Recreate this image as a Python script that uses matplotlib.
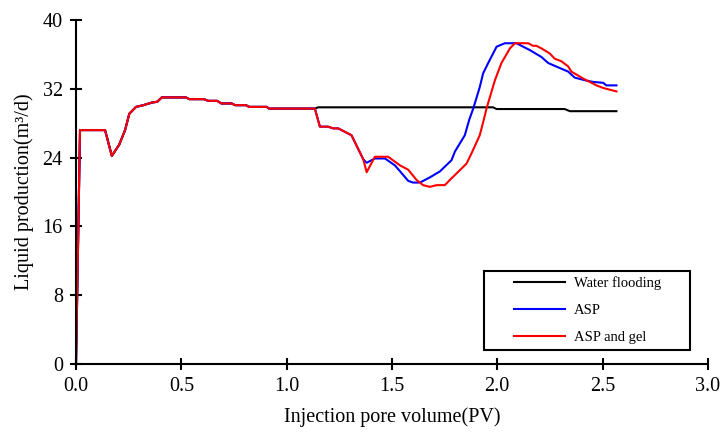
import numpy as np
import matplotlib
matplotlib.use('Agg')
import matplotlib.pyplot as plt
from matplotlib.patches import Rectangle

plt.rcParams['font.family'] = ['Liberation Serif', 'DejaVu Serif']

# common start (all three curves overlap until ~1.13 PV)
pv_common = [0.0, 0.019, 0.138, 0.17, 0.205, 0.233, 0.253, 0.285, 0.32, 0.36, 0.386, 0.407,
             0.522, 0.538, 0.607, 0.628, 0.67, 0.69, 0.739, 0.755, 0.807, 0.822, 0.905, 0.917, 1.134]
q_common = [0.0, 27.2, 27.2, 24.2, 25.5, 27.2, 29.1, 29.9, 30.1, 30.4, 30.5, 31.0,
            31.0, 30.8, 30.8, 30.6, 30.6, 30.3, 30.3, 30.1, 30.1, 29.9, 29.9, 29.7, 29.7]

# water flooding after 1.13 PV
pv_water = [1.15, 1.98, 1.997, 2.32, 2.345, 2.566]
q_water = [29.85, 29.85, 29.65, 29.65, 29.4, 29.4]

# chemical flooding, shared part after 1.13 PV
pv_chem = [1.158, 1.197, 1.221, 1.245, 1.269, 1.308, 1.364]
q_chem = [27.6, 27.6, 27.4, 27.4, 27.1, 26.6, 23.8]

pv_asp = [1.38, 1.419, 1.467, 1.514, 1.546, 1.577, 1.6, 1.633, 1.68, 1.728, 1.783, 1.799,
          1.846, 1.867, 1.886, 1.917, 1.933, 1.957, 1.997, 2.036, 2.092, 2.115, 2.155, 2.21,
          2.242, 2.289, 2.337, 2.368, 2.416, 2.455, 2.503, 2.518, 2.566]
q_asp = [23.4, 23.9, 23.9, 23.1, 22.2, 21.3, 21.1, 21.1, 21.7, 22.4, 23.7, 24.7,
         26.6, 28.4, 29.7, 32.2, 33.8, 35.0, 36.9, 37.3, 37.3, 37.0, 36.5, 35.7,
         35.0, 34.5, 34.0, 33.3, 33.0, 32.8, 32.7, 32.4, 32.4]

pv_gel = [1.38, 1.419, 1.482, 1.538, 1.577, 1.617, 1.648, 1.68, 1.712, 1.751, 1.775, 1.854,
          1.878, 1.917, 1.936, 1.949, 1.989, 2.02, 2.06, 2.084, 2.147, 2.17, 2.186, 2.21,
          2.25, 2.273, 2.305, 2.337, 2.352, 2.408, 2.471, 2.503, 2.534, 2.566]
q_gel = [22.3, 24.1, 24.1, 23.1, 22.6, 21.4, 20.8, 20.6, 20.8, 20.8, 21.4, 23.3,
         24.5, 26.6, 28.4, 29.7, 33.0, 35.0, 36.7, 37.3, 37.3, 37.0, 37.0, 36.7,
         36.1, 35.5, 35.2, 34.6, 34.0, 33.2, 32.4, 32.1, 31.9, 31.7]

x_water = pv_common + pv_water
y_water = q_common + q_water
x_asp = pv_common + pv_chem + pv_asp
y_asp = q_common + q_chem + q_asp
x_gel = pv_common + pv_chem + pv_gel
y_gel = q_common + q_chem + q_gel

fig = plt.figure(figsize=(7.26, 4.45), dpi=100)
ax = fig.add_axes([0.1047, 0.182, 0.8703, 0.773])

ax.plot(x_water, y_water, color='black', lw=1.5, label='Water flooding')
ax.plot(x_asp, y_asp, color='#0000ff', lw=1.5, label='ASP')
ax.plot(x_gel, y_gel, color='#ff0000', lw=1.5, label='ASP and gel')

ax.set_xlim(0, 3.0)
ax.set_ylim(0, 40)
ax.set_xticks(np.arange(0, 3.01, 0.5))
ax.set_yticks(np.arange(0, 41, 8))
ax.xaxis.set_major_formatter(matplotlib.ticker.FormatStrFormatter('%.1f'))

for s in ['top', 'right']:
    ax.spines[s].set_visible(False)
for s in ['left', 'bottom']:
    ax.spines[s].set_linewidth(1.5)
ax.tick_params(direction='inout', length=9, width=1.5, labelsize=14.5, pad=5)

ax.set_xlabel('Injection pore volume(PV)', fontsize=14.5, labelpad=8)
ax.set_ylabel('Liquid production(m³/d)', fontsize=14.5, labelpad=6)

# legend frame drawn separately so the entries sit inset like the original
ax.add_patch(Rectangle((0.645, 0.041), 0.327, 0.23, transform=ax.transAxes,
                       facecolor='white', edgecolor='black', lw=1.5, zorder=4))
leg = ax.legend(loc='upper left', bbox_to_anchor=(0.693, 0.256), borderaxespad=0,
                fontsize=10.5, frameon=False, handlelength=3.5, labelspacing=0.95,
                borderpad=0, handletextpad=0.6)
leg.set_zorder(5)

fig.savefig('out.png', dpi=100)
